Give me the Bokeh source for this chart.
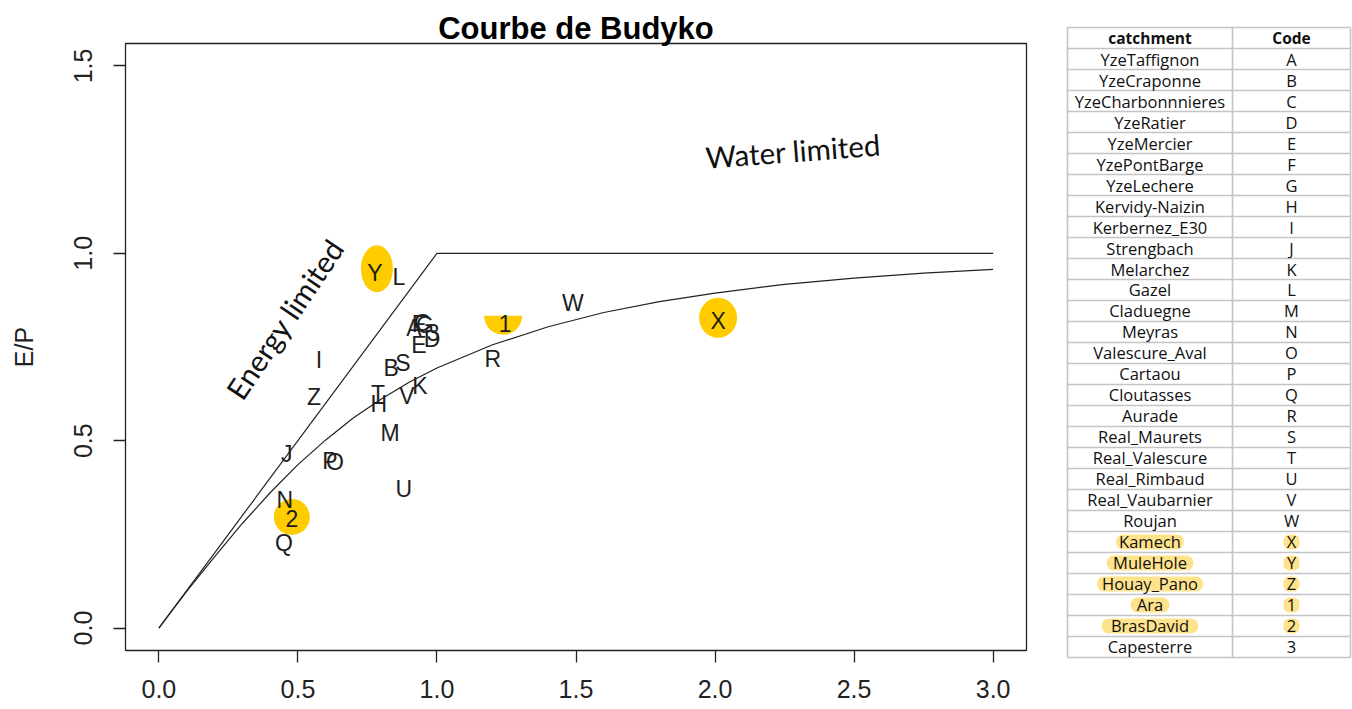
import math
from bokeh.plotting import figure
from bokeh.models import Range1d, FixedTicker, Label
from bokeh.layouts import row
from bokeh.embed import file_html
from bokeh.resources import INLINE
from bokeh.core.properties import value

# ---------------- data ----------------
catchments = ["YzeTaffignon", "YzeCraponne", "YzeCharbonnnieres", "YzeRatier", "YzeMercier",
              "YzePontBarge", "YzeLechere", "Kervidy-Naizin", "Kerbernez_E30", "Strengbach",
              "Melarchez", "Gazel", "Claduegne", "Meyras", "Valescure_Aval", "Cartaou",
              "Cloutasses", "Aurade", "Real_Maurets", "Real_Valescure", "Real_Rimbaud",
              "Real_Vaubarnier", "Roujan", "Kamech", "MuleHole", "Houay_Pano", "Ara",
              "BrasDavid", "Capesterre"]
codes = ["A", "B", "C", "D", "E", "F", "G", "H", "I", "J", "K", "L", "M", "N", "O", "P",
         "Q", "R", "S", "T", "U", "V", "W", "X", "Y", "Z", "1", "2", "3"]
# aridity index (PET/P) and evaporative ratio (E/P)
aridity = [0.917, 0.835, 0.946, 0.982, 0.935, 0.935, 0.957, 0.791, 0.576, 0.460,
           0.939, 0.863, 0.831, 0.453, 0.633, 0.615, 0.450, 1.201, 0.878, 0.788,
           0.881, 0.892, 1.489, 2.011, 0.777, 0.558, 1.245, 0.478, 0.986]
evap_ratio = [0.801, 0.694, 0.814, 0.772, 0.756, 0.812, 0.809, 0.598, 0.716, 0.465,
              0.646, 0.937, 0.521, 0.342, 0.443, 0.446, 0.228, 0.718, 0.708, 0.625,
              0.371, 0.619, 0.868, 0.820, 0.948, 0.617, 0.812, 0.291, 0.790]

# Budyko curve
curve_x = [0.0, 0.05, 0.1, 0.2, 0.3, 0.4, 0.5, 0.6, 0.7, 0.8, 0.9, 1.0, 1.2, 1.4,
           1.6, 1.8, 2.0, 2.25, 2.5, 2.75, 3.0]
curve_y = [0.0, 0.049, 0.098, 0.190, 0.279, 0.361, 0.436, 0.502, 0.561, 0.611, 0.656,
           0.694, 0.756, 0.804, 0.842, 0.871, 0.894, 0.917, 0.934, 0.947, 0.957]
# energy / water limits
limit_x = [0.0, 1.0, 3.0]
limit_y = [0.0, 1.0, 1.0]

x_ticks = [0.0, 0.5, 1.0, 1.5, 2.0, 2.5, 3.0]
x_tick_labels = ["0.0", "0.5", "1.0", "1.5", "2.0", "2.5", "3.0"]
y_ticks = [0.0, 0.5, 1.0, 1.5]
y_tick_labels = ["0.0", "0.5", "1.0", "1.5"]

plot_highlight = ["Y", "X", "1", "2"]
table_highlight = ["X", "Y", "Z", "1", "2"]
table_header = ["catchment", "Code"]

HL = "#FFCC00"
HL_TABLE = "#FFE38C"
INK = "#1e1e1e"

# ---------------- main chart ----------------
p = figure(width=1060, height=708, x_range=Range1d(-0.12, 3.12), y_range=Range1d(-0.06, 1.56),
           output_backend="svg", toolbar_location=None,
           min_border_left=125, min_border_right=34, min_border_top=43, min_border_bottom=58,
           title="Courbe de Budyko")
p.frame_align = False
p.title.align = "center"
p.title.text_font = "Liberation Sans"
p.title.text_font_style = "bold"
p.title.text_font_size = "31px"
p.title.text_color = "#000000"
p.title.standoff = -4
p.xgrid.visible = False
p.ygrid.visible = False
p.outline_line_color = "#222222"
p.outline_line_width = 1.3
p.background_fill_color = "white"

for ax in (p.xaxis, p.yaxis):
    ax.axis_line_color = None
    ax.major_tick_out = 12
    ax.major_tick_in = 0
    ax.minor_tick_line_color = None
    ax.major_tick_line_width = 1.3
    ax.major_tick_line_color = "#222222"
    ax.major_label_text_font = "Liberation Sans"
    ax.major_label_text_font_size = "25px"
    ax.major_label_text_color = "#222222"

p.xaxis.ticker = FixedTicker(ticks=x_ticks)
p.xaxis.major_label_overrides = dict(zip(x_ticks, x_tick_labels))
p.xaxis.major_label_standoff = 17
p.yaxis.ticker = FixedTicker(ticks=y_ticks)
p.yaxis.major_label_overrides = dict(zip(y_ticks, y_tick_labels))
p.yaxis.major_label_orientation = "vertical"
p.yaxis.major_label_standoff = 21
p.yaxis.axis_label = "E/P"
p.yaxis.axis_label_text_font = "Liberation Sans"
p.yaxis.axis_label_text_font_style = "normal"
p.yaxis.axis_label_text_font_size = "25px"
p.yaxis.axis_label_text_color = "#222222"
p.yaxis.axis_label_standoff = 34

px_y = 1.62 / 607.0  # data units per screen pixel (vertical)

# highlights behind some codes
for c in plot_highlight:
    i = codes.index(c)
    x, y = aridity[i], evap_ratio[i]
    if c == "Y":
        p.ellipse(x=[x + 0.007], y=[y + 4 * px_y], width=32, height=47,
                  width_units="screen", height_units="screen", fill_color=HL, line_color=None)
    elif c == "X":
        p.ellipse(x=[x], y=[y + 3 * px_y], width=38, height=40,
                  width_units="screen", height_units="screen", fill_color=HL, line_color=None)
    elif c == "2":
        p.ellipse(x=[x], y=[y + 2 * px_y], width=36, height=36,
                  width_units="screen", height_units="screen", fill_color=HL, line_color=None)
    elif c == "1":
        p.wedge(x=[x - 0.007], y=[y + 8 * px_y], radius=19, radius_units="screen",
                start_angle=math.pi, end_angle=2 * math.pi, fill_color=HL, line_color=None)

p.line(limit_x, limit_y, line_color="#222222", line_width=1.2)
p.line(curve_x, curve_y, line_color="#222222", line_width=1.2)

p.text(x=aridity, y=evap_ratio, text=codes, text_font=value("Liberation Sans"),
       text_font_size="23px", text_align="center", text_baseline="middle", text_color=INK)

p.add_layout(Label(x=0.453, y=0.825, text="Energy limited", angle=0.98,
                   text_align="center", text_baseline="middle", text_font="Lato",
                   text_font_size="29.5px", text_color="#111111"))
p.add_layout(Label(x=2.281, y=1.274, text="Water limited", angle=0.075,
                   text_align="center", text_baseline="middle", text_font="Lato",
                   text_font_size="29.5px", text_color="#111111"))

# ---------------- table ----------------
n = len(catchments)
t = figure(width=292, height=708, x_range=Range1d(0, 292), y_range=Range1d(31.929, -1.786),
           output_backend="svg", toolbar_location=None, min_border=0,
           x_axis_location=None, y_axis_location=None)
t.frame_align = False
t.xgrid.visible = False
t.ygrid.visible = False
t.outline_line_color = None

left_x, mid_x, right_x = 7, 172, 290
col1_x, col2_x = (left_x + mid_x) / 2, (mid_x + right_x) / 2

rows = list(range(1, n + 1))
# highlights
for c in table_highlight:
    i = codes.index(c)
    k = i + 1
    w = 9.6 * len(catchments[i]) + 10
    t.quad(left=[col1_x - w / 2], right=[col1_x + w / 2], top=[k - 0.36], bottom=[k + 0.36],
           border_radius=7, fill_color=HL_TABLE, line_color=None)
    t.quad(left=[col2_x - 8], right=[col2_x + 8], top=[k - 0.36], bottom=[k + 0.36],
           border_radius=6, fill_color=HL_TABLE, line_color=None)

hy = [k - 0.5 for k in range(0, n + 2)]
t.segment(x0=[left_x] * len(hy), x1=[right_x] * len(hy), y0=hy, y1=hy,
          line_color="#c4c4c4", line_width=1.6)
t.segment(x0=[left_x, mid_x, right_x], x1=[left_x, mid_x, right_x],
          y0=[-0.5] * 3, y1=[n + 0.5] * 3, line_color="#c4c4c4", line_width=1.6)

t.text(x=[col1_x, col2_x], y=[0, 0], text=table_header, text_font=value("Open Sans"),
       text_font_style="bold", text_font_size="15.5px", text_align="center",
       text_baseline="middle", text_color="#111111")
t.text(x=[col1_x] * n, y=rows, text=catchments, text_font=value("Open Sans"),
       text_font_size="16.5px", text_align="center", text_baseline="middle", text_color="#111111")
t.text(x=[col2_x] * n, y=rows, text=codes, text_font=value("Open Sans"),
       text_font_size="16.5px", text_align="center", text_baseline="middle", text_color="#111111")

layout = row(p, t)
open("out.html", "w").write(file_html(layout, INLINE))
